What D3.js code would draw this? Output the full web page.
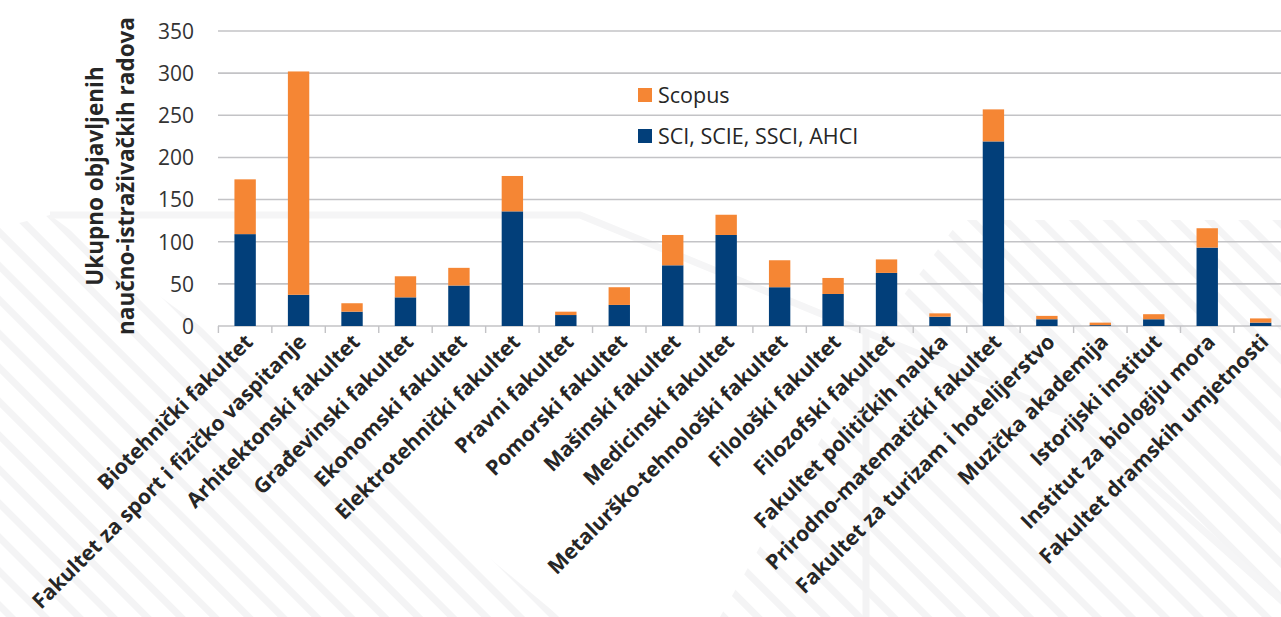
<!DOCTYPE html>
<html>
<head>
<meta charset="utf-8">
<script src="https://cdn.jsdelivr.net/npm/d3@7"></script>
<style>
  html, body { margin: 0; padding: 0; background: #ffffff; }
  svg { display: block; }
</style>
</head>
<body>
<svg id="chart" width="1281" height="617"></svg>
<script>
const categories = [
  "Biotehnički fakultet",
  "Fakultet za sport i fizičko vaspitanje",
  "Arhitektonski fakultet",
  "Građevinski fakultet",
  "Ekonomski fakultet",
  "Elektrotehnički fakultet",
  "Pravni fakultet",
  "Pomorski fakultet",
  "Mašinski fakultet",
  "Medicinski fakultet",
  "Metalurško-tehnološki fakultet",
  "Filološki fakultet",
  "Filozofski fakultet",
  "Fakultet političkih nauka",
  "Prirodno-matematički fakultet",
  "Fakultet za turizam i hotelijerstvo",
  "Muzička akademija",
  "Istorijski institut",
  "Institut za biologiju mora",
  "Fakultet dramskih umjetnosti"
];
const sciValues    = [109, 37, 17, 34, 48, 136, 13, 25, 72, 108, 46, 38, 63, 11, 219, 8, 1, 8, 93, 4];
const scopusValues = [65, 265, 10, 25, 21, 42, 4, 21, 36, 24, 32, 19, 16, 4, 38, 4, 3, 6, 23, 5];
const yTicks = [0, 50, 100, 150, 200, 250, 300, 350];
const seriesNames = ["SCI, SCIE, SSCI, AHCI", "Scopus"];
const yTitleLines = ["Ukupno objavljenih", "naučno-istraživačkih radova"];

const colors = { sci: "#023f7a", scopus: "#f58634" };
const svg = d3.select("#chart");
const font = "'Open Sans', 'Noto Sans', sans-serif";

// faint watermark hatching (decorative background)
const defs = svg.append("defs");
const pat = defs.append("pattern").attr("id", "hatch").attr("patternUnits", "userSpaceOnUse")
  .attr("width", 24).attr("height", 24).attr("patternTransform", "rotate(-45)");
pat.append("rect").attr("x", 0).attr("y", 0).attr("width", 7).attr("height", 24).attr("fill", "#f4f4f5");
const wm = svg.append("g");
wm.append("polygon").attr("points", "0,228 50,215 300,400 560,617 0,617").attr("fill", "url(#hatch)");
wm.append("polygon").attr("points", "900,300 960,220 1281,220 1281,617 720,617").attr("fill", "url(#hatch)");
wm.append("polyline").attr("points", "50,215 580,215 1080,420 1300,617")
  .attr("fill", "none").attr("stroke", "#f5f5f6").attr("stroke-width", 7);
wm.append("line").attr("x1", 866).attr("x2", 866).attr("y1", 330).attr("y2", 617)
  .attr("stroke", "#f3f3f4").attr("stroke-width", 7);

const x = d3.scaleBand().domain(categories).range([218.4, 1287.4]).paddingInner(0.6).paddingOuter(0.3);
const y = d3.scaleLinear().domain([0, 350]).range([326, 31]);

// gridlines
svg.append("g").selectAll("line").data(yTicks).join("line")
  .attr("x1", 218).attr("x2", 1281)
  .attr("y1", d => y(d)).attr("y2", d => y(d))
  .attr("stroke", "#c3c3c6").attr("stroke-width", 1.6);

// category ticks
const step = x.step();
const bounds = d3.range(categories.length + 1).map(i => 218.4 + i * step);
svg.append("g").selectAll("line").data(bounds).join("line")
  .attr("x1", d => d).attr("x2", d => d)
  .attr("y1", y(0)).attr("y2", y(0) + 7)
  .attr("stroke", "#c3c3c6").attr("stroke-width", 1.4);

// stacked bars
const rows = categories.map((c, i) => ({ cat: c, sci: sciValues[i], scopus: scopusValues[i] }));
const stack = d3.stack().keys(["sci", "scopus"])(rows);
svg.append("g").selectAll("g").data(stack).join("g")
  .attr("fill", d => colors[d.key])
  .selectAll("rect").data(d => d).join("rect")
  .attr("x", d => x(d.data.cat))
  .attr("width", x.bandwidth())
  .attr("y", d => y(d[1]))
  .attr("height", d => y(d[0]) - y(d[1]));

// y axis labels
const yAxis = d3.axisLeft(y).tickValues(yTicks).tickSize(0).tickPadding(0);
const yg = svg.append("g").attr("transform", "translate(194,0)").call(yAxis);
yg.select(".domain").remove();
yg.selectAll("text").attr("font-family", font).attr("font-size", 21).attr("fill", "#333").attr("dy", "0.35em");

// x labels
svg.append("g").selectAll("text").data(categories).join("text")
  .attr("transform", d => `translate(${x(d) + x.bandwidth() / 2 + 4},338) rotate(-45)`)
  .attr("text-anchor", "end").attr("dy", "0.35em")
  .attr("font-family", font).attr("font-weight", 700).attr("font-size", 21).attr("fill", "#262626")
  .text(d => d);

// y title
const yt = svg.append("text")
  .attr("transform", "translate(103,176) rotate(-90)")
  .attr("text-anchor", "middle")
  .attr("font-family", font).attr("font-weight", 700).attr("font-size", 22.5).attr("fill", "#262626");
yTitleLines.forEach((t, i) => {
  yt.append("tspan").attr("x", 0).attr("y", i === 0 ? 0 : 31).text(t);
});

// legend
const legendItems = [{ name: seriesNames[1], key: "scopus", y: 95 }, { name: seriesNames[0], key: "sci", y: 136 }];
const lg = svg.append("g");
lg.selectAll("rect").data(legendItems).join("rect")
  .attr("x", 638).attr("y", d => d.y - 7).attr("width", 14).attr("height", 14)
  .attr("fill", d => colors[d.key]);
lg.selectAll("text").data(legendItems).join("text")
  .attr("x", 658).attr("y", d => d.y).attr("dy", "0.35em")
  .attr("font-family", font).attr("font-size", 21.5).attr("fill", "#262626")
  .text(d => d.name);
</script>
</body>
</html>
